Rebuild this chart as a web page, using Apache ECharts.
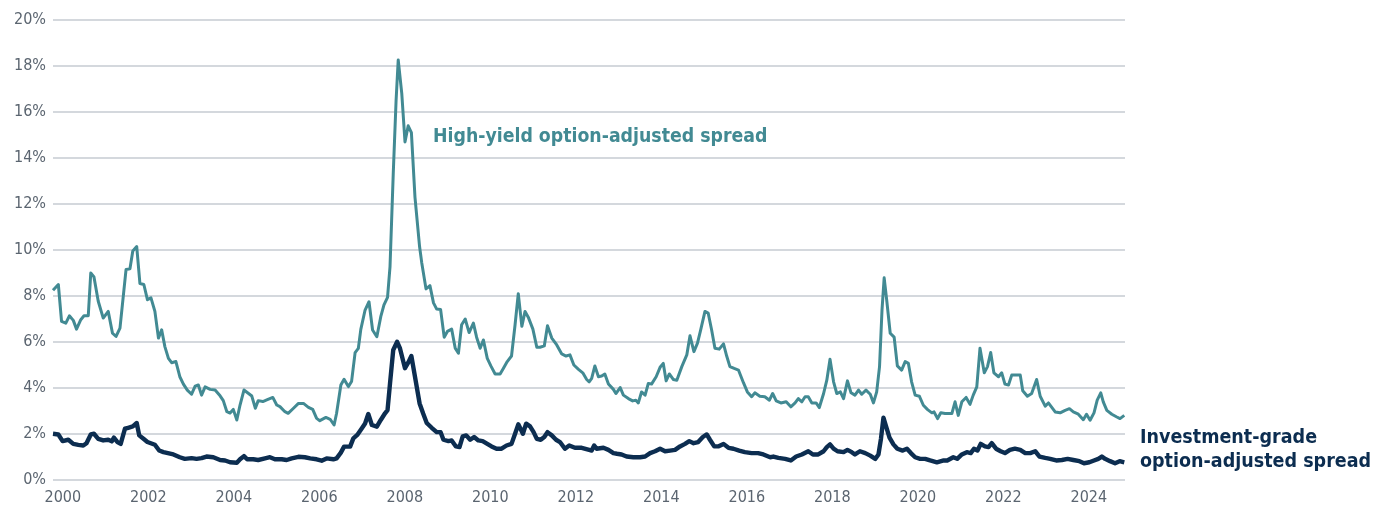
<!DOCTYPE html>
<html>
<head>
<meta charset="utf-8">
<script src="https://cdn.jsdelivr.net/npm/echarts@6/dist/echarts.min.js"></script>
<style>
html,body{margin:0;padding:0;background:#fff;}
#chart{width:1387px;height:514px;}
</style>
</head>
<body>
<div id="chart"></div>
<script>
// Month offsets (from first observation) paired with spread values in %
const highYield = [
[0,8.25],[1.5,8.5],[2.4,6.9],[3.6,6.82],[4.6,7.14],[5.7,6.94],[6.6,6.56],[7.8,6.97],[8.7,7.14],[9.9,7.14],[10.6,9.0],[11.5,8.83],[12.7,7.77],[14.1,7.04],[15.5,7.33],[16.7,6.38],[17.7,6.24],[18.8,6.6],[20.5,9.15],[21.6,9.18],[22.4,9.96],[23.5,10.15],[24.4,8.54],[25.5,8.5],[26.5,7.84],[27.5,7.92],[28.6,7.33],[29.6,6.17],[30.5,6.53],[31.4,5.8],[32.4,5.29],[33.3,5.1],[34.5,5.15],[35.6,4.49],[36.6,4.17],[37.7,3.91],[38.9,3.73],[39.9,4.08],[40.8,4.13],[41.7,3.69],[42.7,4.05],[44.1,3.94],[45.5,3.91],[46.9,3.66],[47.8,3.45],[48.8,2.97],[49.7,2.91],
[50.6,3.07],[51.6,2.61],[52.5,3.26],[53.6,3.91],[54.8,3.77],[55.8,3.65],[56.8,3.12],[57.6,3.45],[58.9,3.41],[60.0,3.48],[61.7,3.59],[62.8,3.26],[63.7,3.19],[65.1,2.97],[66.0,2.9],[67.5,3.12],[68.9,3.33],[70.3,3.33],[71.7,3.16],[72.9,3.07],[74.0,2.68],[74.9,2.58],[76.6,2.72],[77.8,2.64],[78.9,2.39],[79.6,2.9],[80.8,4.13],[81.7,4.38],[82.9,4.06],[83.8,4.28],[84.8,5.54],[85.7,5.72],[86.4,6.55],[87.6,7.39],[88.7,7.75],[89.7,6.52],[90.9,6.23],[92.0,7.1],[92.9,7.61],[93.9,7.94],[94.6,9.28],[95.5,13.3],[96.3,16.5],[96.9,18.26],[97.9,16.8],[98.8,14.7],[99.7,15.4],[100.6,15.1],[101.6,12.3],[102.9,10.14],
[103.5,9.45],[104.7,8.31],[105.8,8.45],[106.8,7.7],[107.7,7.43],[108.8,7.41],[109.8,6.21],[110.7,6.46],[111.9,6.56],[112.9,5.73],[113.8,5.51],[114.7,6.75],[115.7,7.0],[116.8,6.41],[118.0,6.82],[118.9,6.21],[119.9,5.73],[120.8,6.09],[121.9,5.29],[122.9,4.96],[124.1,4.61],[125.5,4.61],[126.4,4.85],[127.5,5.15],[128.7,5.39],[129.7,6.75],[130.6,8.1],[131.6,6.68],[132.5,7.33],[133.4,7.08],[134.7,6.56],[135.8,5.77],[136.7,5.77],[137.9,5.83],[138.8,6.71],[140.0,6.17],[141.4,5.87],[142.8,5.48],[144.0,5.39],[145.1,5.44],[146.2,5.0],[147.5,4.81],[148.7,4.66],[149.8,4.37],[150.5,4.27],
[151.2,4.42],[152.1,4.96],[153.1,4.49],[154.0,4.52],[154.9,4.61],[155.9,4.17],[157.3,3.94],[158.0,3.76],[159.2,4.02],[160.1,3.69],[161.5,3.54],[162.7,3.44],[163.6,3.47],[164.3,3.35],[165.2,3.83],[166.2,3.69],[167.1,4.2],[168.0,4.17],[169.3,4.49],[170.4,4.9],[171.3,5.07],[172.1,4.31],[173.0,4.61],[174.1,4.37],[175.1,4.34],[176.5,4.93],[177.9,5.44],[178.8,6.27],[179.9,5.58],[180.9,5.95],[181.8,6.53],[183.0,7.33],[183.9,7.26],[184.9,6.5],[185.8,5.73],[187.0,5.69],[188.2,5.92],[189.1,5.39],[190.0,4.93],[191.2,4.85],[192.4,4.78],[193.8,4.23],[194.9,3.83],[196.1,3.62],[197.0,3.79],[198.4,3.64],[199.8,3.62],[201.1,3.47],
[202.0,3.76],[203.0,3.44],[204.3,3.35],[205.8,3.4],[207.1,3.18],[208.3,3.35],[209.2,3.54],[210.2,3.4],[211.1,3.62],[212.0,3.62],[213.0,3.35],[214.2,3.35],[215.1,3.15],[216.3,3.76],[217.2,4.34],[218.1,5.25],[219.1,4.27],[220.0,3.76],[221.0,3.83],[221.9,3.54],[223.0,4.31],[224.0,3.79],[225.1,3.69],[226.1,3.91],[227.0,3.73],[228.2,3.91],[229.4,3.73],[230.3,3.35],[231.2,3.83],[232.0,4.93],[232.7,7.41],[233.3,8.79],[234.0,7.84],[235.0,6.38],[236.1,6.21],[237.0,4.96],[238.2,4.78],[239.2,5.15],[240.1,5.07],[241.0,4.27],[242.0,3.69],[243.2,3.64],[244.3,3.25],[245.5,3.06],[246.7,2.92],[247.3,2.96],[248.3,2.67],[249.2,2.92],
[250.4,2.89],[252.3,2.89],[253.2,3.4],[254.1,2.81],[255.1,3.4],[256.3,3.59],[257.4,3.29],[258.3,3.69],[259.3,4.05],[260.2,5.73],[261.4,4.66],[262.3,4.93],[263.2,5.54],[264.1,4.66],[265.4,4.49],[266.3,4.66],[267.2,4.17],[268.2,4.13],[269.1,4.56],[270.3,4.56],[271.5,4.56],[272.2,3.88],[273.5,3.64],[274.7,3.76],[276.1,4.37],[277.1,3.64],[278.5,3.21],[279.4,3.35],[281.3,2.96],[282.7,2.92],[284.1,3.03],[285.3,3.1],[286.4,2.96],[287.8,2.86],[289.2,2.62],[290.1,2.86],[291.1,2.6],[292.2,2.92],[293.1,3.47],[294.1,3.79],[294.8,3.4],[295.8,3.03],[297.2,2.86],[298.6,2.74],[299.5,2.67],[300.7,2.81]
];

const investmentGrade = [
[0,2.01],[1.5,1.98],[2.7,1.69],[4.3,1.75],[5.7,1.57],[7.1,1.53],[8.5,1.5],[9.4,1.6],[10.6,1.98],[11.5,2.01],[12.7,1.79],[14.1,1.72],[15.5,1.75],[16.5,1.68],[17.1,1.84],[18.1,1.65],[19.0,1.57],[20.2,2.23],[21.1,2.27],[22.4,2.33],[23.5,2.48],[24.2,1.94],[25.4,1.79],[26.5,1.65],[28.6,1.53],[29.8,1.28],[31.0,1.21],[33.8,1.11],[35.6,0.99],[37.0,0.92],[38.9,0.95],[40.3,0.92],[41.7,0.95],[43.1,1.02],[45.0,0.99],[46.9,0.87],[48.3,0.85],[49.7,0.77],
[50.2,0.8],[51.6,0.75],[52.5,0.9],[53.6,1.04],[54.5,0.9],[56.2,0.9],[57.6,0.87],[59.5,0.94],[60.9,0.99],[62.3,0.9],[64.2,0.9],[65.6,0.87],[67.0,0.94],[68.9,1.01],[70.7,0.99],[72.2,0.94],[74.0,0.9],[75.4,0.84],[76.8,0.94],[78.7,0.9],[79.6,0.94],[80.8,1.19],[81.7,1.45],[83.4,1.45],[84.3,1.81],[85.4,1.96],[86.7,2.25],[87.6,2.46],[88.5,2.87],[89.5,2.39],[90.9,2.32],[92.0,2.61],[93.2,2.9],[93.9,3.04],[94.6,4.2],[95.5,5.65],[96.6,6.01],[97.4,5.72],[98.8,4.86],[99.7,5.1],[100.6,5.39],[101.6,4.49],[102.9,3.33],
[103.9,2.89],[104.9,2.48],[106.3,2.27],[107.7,2.08],[108.8,2.08],[109.6,1.75],[111.0,1.69],[111.9,1.72],[113.1,1.46],[114.1,1.43],[115.0,1.9],[116.0,1.94],[117.1,1.75],[118.2,1.87],[119.4,1.72],[120.6,1.69],[121.9,1.57],[123.1,1.46],[124.5,1.36],[125.9,1.36],[127.3,1.5],[128.7,1.57],[129.7,2.01],[130.6,2.42],[131.9,2.01],[132.8,2.45],[133.9,2.33],[134.9,2.08],[135.8,1.79],[136.9,1.75],[137.9,1.87],[138.8,2.08],[140.0,1.94],[141.2,1.75],[142.3,1.65],[143.7,1.36],[144.9,1.5],[146.5,1.4],[148.4,1.4],[150.5,1.31],
[151.2,1.28],[151.9,1.5],[152.6,1.36],[154.5,1.4],[155.9,1.31],[157.3,1.17],[158.3,1.14],[159.6,1.11],[161.0,1.02],[162.9,0.99],[164.8,0.99],[166.2,1.02],[167.6,1.17],[169.0,1.25],[170.4,1.36],[171.8,1.25],[173.2,1.28],[174.6,1.31],[176.0,1.46],[177.4,1.57],[178.6,1.69],[179.8,1.6],[181.1,1.65],[182.4,1.87],[183.5,1.98],[184.4,1.75],[185.6,1.46],[186.7,1.46],[188.2,1.57],[189.6,1.4],[191.0,1.36],[192.6,1.28],[194.2,1.21],[196.1,1.17],[197.9,1.17],[199.4,1.11],
[201.3,0.99],[202.2,1.02],[203.6,0.96],[205.5,0.92],[207.1,0.85],[208.6,1.02],[210.2,1.11],[212.0,1.25],[213.3,1.11],[214.8,1.11],[216.3,1.25],[217.2,1.43],[218.1,1.55],[219.1,1.36],[220.2,1.25],[221.9,1.21],[223.0,1.31],[224.2,1.21],[225.1,1.11],[226.5,1.25],[228.0,1.17],[229.4,1.06],[230.8,0.92],[231.7,1.11],[232.4,1.79],[233.1,2.71],[233.9,2.3],[234.8,1.84],[235.9,1.55],[237.0,1.36],[238.5,1.28],[239.7,1.36],[240.8,1.17],[242.0,0.99],[243.4,0.92],[244.8,0.92],[246.2,0.85],[248.1,0.77],[250.0,0.85],
[251.0,0.85],[252.7,0.99],[253.8,0.92],[255.1,1.11],[256.5,1.21],[257.6,1.17],[258.5,1.36],[259.5,1.28],[260.4,1.57],[261.6,1.46],[262.6,1.43],[263.5,1.6],[264.7,1.36],[266.0,1.25],[267.2,1.17],[268.6,1.31],[270.0,1.36],[271.5,1.31],[272.9,1.17],[274.3,1.17],[275.7,1.25],[276.9,1.02],[278.5,0.96],[279.9,0.92],[281.6,0.85],[283.2,0.87],[284.8,0.92],[286.4,0.87],[288.1,0.82],[289.4,0.73],[290.9,0.77],[292.2,0.85],[293.4,0.92],[294.4,1.02],[295.3,0.92],[296.7,0.82],[298.1,0.73],[299.4,0.82],[300.7,0.77]
];

const yearLabels = ['2000','2002','2004','2006','2008','2010','2012','2014','2016','2018','2020','2022','2024'];
const yearLabelMonths = [2.75,26.75,50.75,74.75,98.75,122.75,146.75,170.75,194.75,218.75,242.75,266.75,290.75];
const hyLabel = 'High-yield option-adjusted spread';
const igLabel = 'Investment-grade\noption-adjusted spread';

const HY_COLOR = '#428a93';
const IG_COLOR = '#0c2d50';
const FONT = "'Liberation Sans Narrow','DejaVu Sans Condensed','Roboto',sans-serif";

const chart = echarts.init(document.getElementById('chart'), null, {renderer: 'canvas'});
chart.setOption({
  animation: false,
  backgroundColor: '#ffffff',
  grid: {left: 53, right: 262, top: 20, bottom: 34, containLabel: false},
  xAxis: {
    type: 'value',
    min: 0,
    max: 300.9,
    axisLine: {show: false},
    axisTick: {show: false},
    splitLine: {show: false},
    axisLabel: {
      customValues: yearLabelMonths,
      formatter: function (v) {
        const i = yearLabelMonths.findIndex(function (p) { return Math.abs(p - v) < 0.5; });
        return i >= 0 ? yearLabels[i] : '';
      },
      color: '#5b6570',
      fontSize: 16,
      fontFamily: FONT,
      margin: 10
    }
  },
  yAxis: {
    type: 'value',
    min: 0,
    max: 20,
    interval: 2,
    axisLine: {show: false},
    axisTick: {show: false},
    splitLine: {lineStyle: {color: '#c6cbd2', width: 1.5}},
    axisLabel: {
      formatter: '{value}%',
      color: '#5b6570',
      fontSize: 16,
      fontFamily: FONT,
      margin: 7
    }
  },
  series: [
    {
      name: 'High-yield',
      type: 'line',
      data: highYield,
      showSymbol: false,
      lineStyle: {color: HY_COLOR, width: 3, join: 'round'},
      z: 2
    },
    {
      name: 'Investment-grade',
      type: 'line',
      data: investmentGrade,
      showSymbol: false,
      lineStyle: {color: IG_COLOR, width: 4.4, join: 'round'},
      z: 3
    }
  ],
  graphic: [
    {
      type: 'text',
      left: 433,
      top: 127,
      style: {text: hyLabel, fill: HY_COLOR, font: "bold 19.3px " + FONT}
    },
    {
      type: 'text',
      left: 1140,
      top: 426,
      style: {text: igLabel, fill: IG_COLOR, font: "bold 19.5px " + FONT, lineHeight: 24}
    }
  ]
});
</script>
</body>
</html>
